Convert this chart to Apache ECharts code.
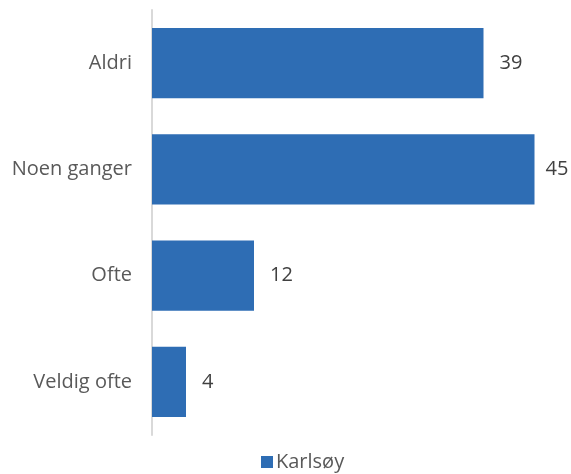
<!DOCTYPE html>
<html>
<head>
<meta charset="utf-8">
<script src="https://cdn.jsdelivr.net/npm/echarts@6/dist/echarts.min.js"></script>
<style>
  html, body { margin: 0; padding: 0; background: #fff; }
  #chart { width: 571px; height: 474px; }
</style>
</head>
<body>
<div id="chart"></div>
<script>
var categories = ['Aldri', 'Noen ganger', 'Ofte', 'Veldig ofte'];
var seriesName = 'Karlsøy';
var values = [39, 45, 12, 4];

var myChart = echarts.init(document.getElementById('chart'));

var font = 'Open Sans';
var maxVal = Math.max.apply(null, values);

var option = {
  animation: false,
  textStyle: { fontFamily: font, color: '#595959' },
  grid: { left: 152, top: 10, bottom: 39, width: 408 },
  legend: {
    data: [seriesName],
    bottom: -3,
    left: 256,
    itemWidth: 12,
    itemHeight: 12,
    itemGap: 4,
    icon: 'rect',
    textStyle: { fontFamily: font, fontSize: 20, color: '#595959', padding: [0, 0, 0, -2] }
  },
  xAxis: {
    type: 'value',
    min: 0,
    max: 48,
    show: false
  },
  yAxis: {
    type: 'category',
    inverse: true,
    data: categories,
    axisLine: { lineStyle: { color: '#d9d9d9', width: 2 } },
    axisTick: { show: false },
    axisLabel: { fontFamily: font, fontSize: 20, color: '#595959', margin: 20 }
  },
  series: [{
    name: seriesName,
    type: 'bar',
    // the longest bar's label sits a bit closer so it stays inside the canvas
    data: values.map(function (v) {
      return v === maxVal ? { value: v, label: { distance: 11 } } : v;
    }),
    barCategoryGap: '34%',
    itemStyle: { color: '#2e6db4' },
    label: {
      show: true,
      position: 'right',
      distance: 16,
      fontFamily: font,
      fontSize: 20,
      color: '#404040'
    }
  }]
};

myChart.setOption(option);
</script>
</body>
</html>
